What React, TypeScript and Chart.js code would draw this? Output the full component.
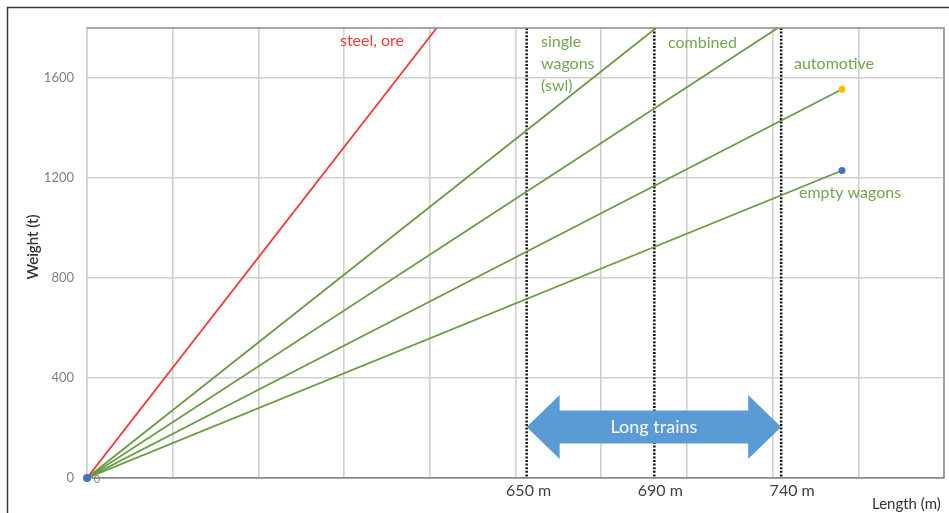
import { useEffect, useRef } from "react";
import { Chart, registerables } from "chart.js";

Chart.register(...registerables);

// ---- data ----
const seriesNames = ["steel, ore", "single wagons (swl)", "combined", "automotive", "empty wagons"];
const endLengths = [408, 664, 806, 881, 881];
const endWeights = [1800, 1800, 1800, 1555, 1230];
const longTrainMarks = [513, 662, 810];
const longTrainLabels = ["650 m", "690 m", "740 m"];
const yTickValues = [0, 400, 800, 1200, 1600];
const xMax = 1000;
const yMax = 1800;

const FONT = "Lato, 'Open Sans', sans-serif";
const GREEN_LINE = "#6b9a45";
const GREEN_TEXT = "#74a452";
const RED = "#ee3b36";

const overlay = {
  id: "overlay",
  beforeDatasetsDraw(chart: any) {
    const { ctx, chartArea: ca, scales } = chart;
    ctx.save();
    ctx.strokeStyle = "#111";
    ctx.lineWidth = 2.5;
    ctx.setLineDash([2, 1.6]);
    longTrainMarks.forEach((m) => {
      const x = scales.x.getPixelForValue(m);
      ctx.beginPath();
      ctx.moveTo(x, ca.top);
      ctx.lineTo(x, ca.bottom);
      ctx.stroke();
    });
    ctx.restore();
  },
  afterDatasetsDraw(chart: any) {
    const { ctx, chartArea: ca, scales, width, height } = chart;
    ctx.save();
    // outer frame
    ctx.strokeStyle = "#3a3a3a";
    ctx.lineWidth = 1.5;
    ctx.beginPath();
    ctx.moveTo(7.5, height);
    ctx.lineTo(7.5, 7.5);
    ctx.lineTo(width, 7.5);
    ctx.stroke();
    // plot top/right border
    ctx.strokeStyle = "#8a8a8a";
    ctx.lineWidth = 1.5;
    ctx.beginPath();
    ctx.moveTo(ca.left, ca.top);
    ctx.lineTo(ca.right, ca.top);
    ctx.lineTo(ca.right, ca.bottom);
    ctx.stroke();

    // arrow
    const xl = scales.x.getPixelForValue(longTrainMarks[0]);
    const xr = scales.x.getPixelForValue(longTrainMarks[2]);
    const cy = ca.bottom - 51;
    const hh = 32, sh = 16.5, hl = 33;
    ctx.fillStyle = "#5b9bd5";
    ctx.beginPath();
    ctx.moveTo(xl, cy);
    ctx.lineTo(xl + hl, cy - hh);
    ctx.lineTo(xl + hl, cy - sh);
    ctx.lineTo(xr - hl, cy - sh);
    ctx.lineTo(xr - hl, cy - hh);
    ctx.lineTo(xr, cy);
    ctx.lineTo(xr - hl, cy + hh);
    ctx.lineTo(xr - hl, cy + sh);
    ctx.lineTo(xl + hl, cy + sh);
    ctx.lineTo(xl + hl, cy + hh);
    ctx.closePath();
    ctx.fill();
    ctx.fillStyle = "#ffffff";
    ctx.font = `18px ${FONT}`;
    ctx.textAlign = "center";
    ctx.textBaseline = "middle";
    ctx.fillText("Long trains", (xl + xr) / 2, cy);

    // series labels
    ctx.textAlign = "left";
    ctx.font = `16px ${FONT}`;
    ctx.fillStyle = RED;
    ctx.fillText(seriesNames[0], 340, 41);
    ctx.fillStyle = GREEN_TEXT;
    ctx.fillText("single", 541, 42);
    ctx.fillText("wagons", 541, 64);
    ctx.fillText("(swl)", 541, 86);
    ctx.fillText(seriesNames[2], 668, 43);
    ctx.fillText(seriesNames[3], 794, 64);
    ctx.fillText(seriesNames[4], 799, 193);

    // long train labels
    ctx.fillStyle = "#404040";
    ctx.textAlign = "center";
    ctx.font = `16px ${FONT}`;
    const offs = [2, 6, 11];
    longTrainLabels.forEach((t, i) => {
      ctx.fillText(t, scales.x.getPixelForValue(longTrainMarks[i]) + offs[i], 491);
    });

    // axis titles
    ctx.textAlign = "left";
    ctx.font = `15px ${FONT}`;
    ctx.fillStyle = "#333";
    ctx.fillText("Length (m)", 872, 504);
    ctx.save();
    ctx.translate(33, 247);
    ctx.rotate(-Math.PI / 2);
    ctx.textAlign = "center";
    ctx.font = `600 15px ${FONT}`;
    ctx.fillText("Weight (t)", 0, 0);
    ctx.restore();

    // origin data label
    ctx.fillStyle = "#7f7f7f";
    ctx.font = `11px ${FONT}`;
    ctx.textAlign = "center";
    ctx.fillText("0", scales.x.getPixelForValue(0) + 10, ca.bottom + 1);
    ctx.restore();
  },
};

export default function App() {
  const ref = useRef<HTMLCanvasElement | null>(null);
  useEffect(() => {
    if (!ref.current) return;
    const datasets: any[] = seriesNames.map((name, i) => ({
      label: name,
      data: [
        { x: 0, y: 0 },
        { x: endLengths[i], y: endWeights[i] },
      ],
      borderColor: i === 0 ? RED : GREEN_LINE,
      borderWidth: 1.8,
      pointRadius: i === 3 || i === 4 ? [0, 3.5] : [0, 0],
      pointBackgroundColor: i === 3 ? "#ffc000" : "#4472c4",
      pointBorderWidth: 0,
      showLine: true,
      fill: false,
      order: 1,
    }));
    datasets.push({
      label: "origin",
      data: [{ x: 0, y: 0 }],
      borderColor: "#4472c4",
      borderWidth: 0,
      pointRadius: [4],
      pointBackgroundColor: "#4472c4",
      pointBorderWidth: 0,
      showLine: false,
      fill: false,
      clip: false,
      order: 0,
    });
    const chart = new Chart(ref.current, {
      type: "scatter",
      data: { datasets },
      options: {
        animation: false,
        responsive: false,
        maintainAspectRatio: false,
        layout: { padding: { left: 0, top: 28, right: 5, bottom: 0 } },
        plugins: { legend: { display: false }, tooltip: { enabled: false } },
        scales: {
          x: {
            type: "linear",
            min: 0,
            max: xMax,
            ticks: { display: false, stepSize: 100 },
            grid: { color: "#d0d0d0", lineWidth: 1.6, drawTicks: false },
            border: { display: true, color: "#8c8c8c", width: 1.8 },
            afterFit: (s: any) => {
              s.height = 35;
            },
          },
          y: {
            type: "linear",
            min: 0,
            max: yMax,
            afterBuildTicks: (s: any) => {
              s.ticks = yTickValues.map((v) => ({ value: v }));
            },
            ticks: {
              color: "#7f7f7f",
              font: { family: FONT, size: 13 },
              padding: 13,
              callback: (v: any) => String(v),
            },
            grid: { color: "#d0d0d0", lineWidth: 1.6, drawTicks: false },
            border: { display: true, color: "#d0d0d0", width: 1.6 },
            afterFit: (s: any) => {
              s.width = 87;
            },
          },
        },
      },
      plugins: [overlay],
    });
    return () => chart.destroy();
  }, []);
  return (
    <div style={{ position: "fixed", left: 0, top: 0, width: 949, height: 513, background: "#fff" }}>
      <canvas ref={ref} width={949} height={513} style={{ width: 949, height: 513 }} />
    </div>
  );
}
